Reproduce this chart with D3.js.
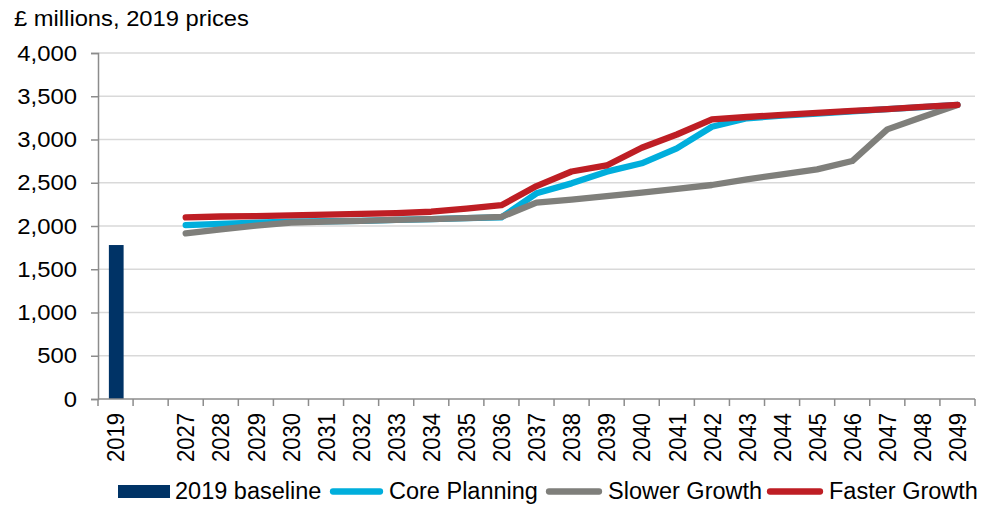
<!DOCTYPE html>
<html><head><meta charset="utf-8">
<script src="https://cdn.jsdelivr.net/npm/d3@7"></script>
<style>
body{margin:0;background:#fff;}
svg text{font-family:"Liberation Sans",Arial,sans-serif;fill:#000;}
</style></head>
<body><svg id="c" width="991" height="510"></svg>
<script>
const categories = ["2019"," ","2027","2028","2029","2030","2031","2032","2033","2034","2035","2036","2037","2038","2039","2040","2041","2042","2043","2044","2045","2046","2047","2048","2049"];
const lineYears = ["2027","2028","2029","2030","2031","2032","2033","2034","2035","2036","2037","2038","2039","2040","2041","2042","2043","2044","2045","2046","2047","2048","2049"];
const baseline2019 = [1780];
const corePlanning = [2010,2025,2040,2050,2055,2060,2070,2080,2090,2100,2378,2493,2628,2725,2898,3148,3245,3275,3300,3325,3350,3375,3400];
const slowerGrowth = [1915,1960,2005,2040,2050,2060,2070,2080,2090,2105,2270,2305,2345,2385,2430,2474,2540,2597,2655,2751,3117,3260,3400];
const fasterGrowth = [2100,2110,2115,2122,2132,2140,2150,2165,2200,2240,2462,2630,2700,2905,3058,3233,3260,3285,3308,3330,3352,3378,3400];
const yTicks = [0,500,1000,1500,2000,2500,3000,3500,4000];
const seriesNames = ["2019 baseline","Core Planning","Slower Growth","Faster Growth"];
const colors = {"2019 baseline":"#003366","Core Planning":"#00AEDC","Slower Growth":"#7F7F7B","Faster Growth":"#BE1E24"};

const svg = d3.select("#c");
const L=98, R=975, T=53, B=399;
const x = d3.scaleBand().domain(categories).range([L,R]).paddingInner(0).paddingOuter(0);
const y = d3.scaleLinear().domain([0,4000]).range([B,T]);
const fs = "22px";
const sx = 1.08;

// gridlines
svg.append("g").selectAll("line").data(yTicks.filter(d=>d>0)).join("line")
  .attr("x1",L).attr("x2",R).attr("y1",d=>y(d)).attr("y2",d=>y(d))
  .attr("stroke","#D9D9D9").attr("stroke-width",1.3);

// y axis
const ya = svg.append("g").attr("transform",`translate(${L},0)`)
  .call(d3.axisLeft(y).tickValues(yTicks).tickFormat(d3.format(",")).tickSize(7).tickPadding(13));
ya.select(".domain").attr("stroke","#8C8C8C").attr("stroke-width",1.5);
ya.selectAll(".tick line").attr("stroke","#8C8C8C").attr("stroke-width",1.5);
ya.selectAll("text").style("font-size","22.5px").attr("x",0).attr("transform",`translate(-21,0) scale(1.06,1)`);

// bar
svg.append("g").selectAll("rect").data(baseline2019).join("rect")
  .attr("x",x("2019")+x.bandwidth()*0.31).attr("width",x.bandwidth()*0.42)
  .attr("y",d=>y(d)).attr("height",d=>y(0)-y(d)).attr("fill",colors["2019 baseline"]);

// x axis
const xa = svg.append("g").attr("transform",`translate(0,${B})`);
xa.append("line").attr("x1",L).attr("x2",R).attr("stroke","#8C8C8C").attr("stroke-width",1.5);
const bounds = categories.map(c=>x(c)).concat([R]);
xa.selectAll(".tk").data(bounds).join("line").attr("class","tk")
  .attr("x1",d=>d).attr("x2",d=>d).attr("y1",0).attr("y2",7)
  .attr("stroke","#8C8C8C").attr("stroke-width",1.5);
xa.selectAll(".lbl").data(categories.filter(c=>c.trim()!=="")).join("text").attr("class","lbl")
  .attr("transform",d=>`translate(${x(d)+x.bandwidth()/2},14) rotate(-90) scale(1,1.1)`)
  .attr("text-anchor","end").attr("dy","0.36em").style("font-size",fs).text(d=>d);

// lines
const line = d3.line().x((d,i)=>x(lineYears[i])+x.bandwidth()/2).y(d=>y(d));
[["Core Planning",corePlanning],["Slower Growth",slowerGrowth],["Faster Growth",fasterGrowth]].forEach(([n,v])=>{
  svg.append("path").datum(v).attr("d",line).attr("fill","none")
    .attr("stroke",colors[n]).attr("stroke-width",6.3).attr("stroke-linecap","round").attr("stroke-linejoin","round");
});

// title
svg.append("text").attr("transform",`translate(14,26) scale(${sx},1)`).style("font-size",fs).text("£ millions, 2019 prices");

// legend
const leg = [
  {n:"2019 baseline", sx:118, tx:175, type:"rect"},
  {n:"Core Planning", sx:330, tx:389, type:"line"},
  {n:"Slower Growth", sx:546, tx:608, type:"line"},
  {n:"Faster Growth", sx:767, tx:829, type:"line"}
];
const lg = svg.append("g");
leg.forEach(d=>{
  if(d.type==="rect"){
    lg.append("rect").attr("x",d.sx).attr("y",485).attr("width",52).attr("height",13).attr("fill",colors[d.n]);
  } else {
    lg.append("line").attr("x1",d.sx+3).attr("x2",d.tx-9).attr("y1",491.5).attr("y2",491.5)
      .attr("stroke",colors[d.n]).attr("stroke-width",6.3).attr("stroke-linecap","round");
  }
  lg.append("text").attr("x",d.tx).attr("y",498.5).style("font-size","23.5px").text(d.n);
});
</script></body></html>
